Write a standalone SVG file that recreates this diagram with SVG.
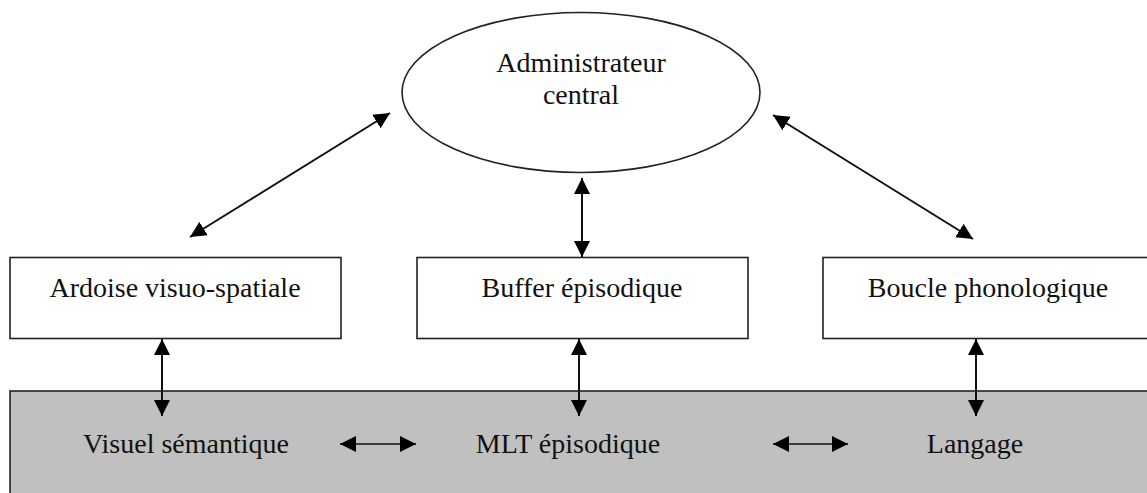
<svg xmlns="http://www.w3.org/2000/svg" width="1147" height="493" viewBox="0 0 1147 493">
<style>
.box{fill:#fff;stroke:#222;stroke-width:1.6}
.lbl{font-family:"Liberation Serif","Times New Roman",serif;font-size:28px;fill:#111;text-anchor:middle}
.conn{stroke:#111;stroke-width:2;fill:none;marker-start:url(#ah);marker-end:url(#ah)}
.thin{stroke-width:1.6}
</style>
<defs>
<marker id="ah" markerUnits="userSpaceOnUse" markerWidth="17" markerHeight="16" refX="16" refY="8" orient="auto-start-reverse">
<path d="M0,0 L16,8 L0,16 z" fill="#000"/>
</marker>
</defs>
<rect width="1147" height="493" fill="#fff"/>
<g id="mlt">
<rect x="10" y="391" width="1150" height="120" fill="#c0c0c0" stroke="#222" stroke-width="1.6"/>
<text class="lbl" x="186" y="453">Visuel sémantique</text>
<text class="lbl" x="568" y="453">MLT épisodique</text>
<text class="lbl" x="975" y="453">Langage</text>
</g>
<g id="admin">
<ellipse cx="581" cy="92.5" rx="179" ry="80" fill="#fff" stroke="#222" stroke-width="1.6"/>
<text class="lbl" x="581" y="72">Administrateur</text>
<text class="lbl" x="581" y="104">central</text>
</g>
<g id="ardoise">
<rect class="box" x="10" y="257.5" width="331" height="81"/>
<text class="lbl" x="175" y="296.5">Ardoise visuo-spatiale</text>
</g>
<g id="buffer">
<rect class="box" x="417" y="257.5" width="331" height="81"/>
<text class="lbl" x="582" y="296.5">Buffer épisodique</text>
</g>
<g id="boucle">
<rect class="box" x="823" y="257.5" width="340" height="81"/>
<text class="lbl" x="988" y="296.5">Boucle phonologique</text>
</g>
<g id="connectors">
<line class="conn" x1="190" y1="237" x2="390" y2="113"/>
<line class="conn" x1="773" y1="115" x2="973" y2="239"/>
<line class="conn" x1="582" y1="178" x2="582" y2="257"/>
<line class="conn" x1="162" y1="339" x2="162" y2="416"/>
<line class="conn" x1="579" y1="339" x2="579" y2="416"/>
<line class="conn" x1="976" y1="339" x2="976" y2="416"/>
<line class="conn thin" x1="340" y1="444" x2="416" y2="444"/>
<line class="conn thin" x1="773" y1="444" x2="848" y2="444"/>
</g>
</svg>
